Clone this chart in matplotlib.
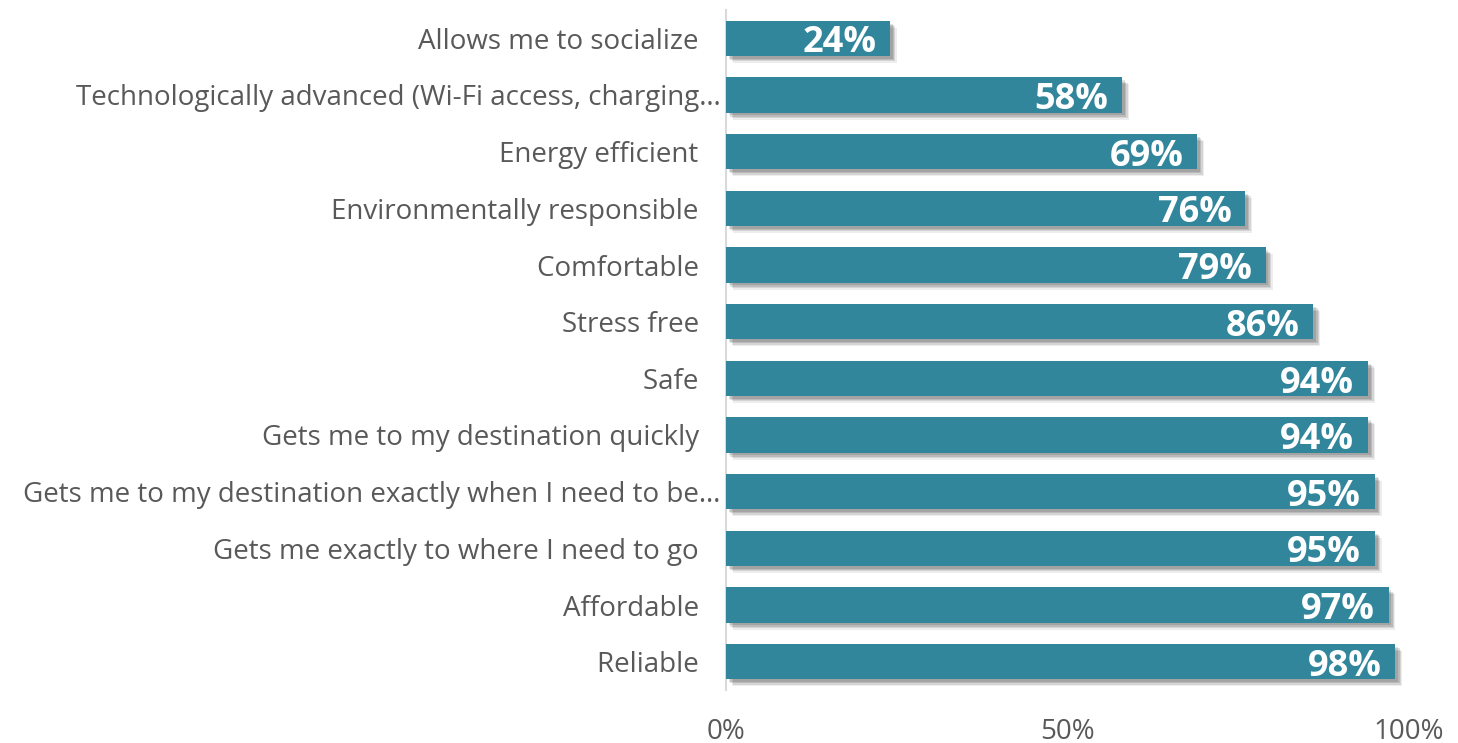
import matplotlib
matplotlib.use("Agg")
from matplotlib import pyplot as plt
import matplotlib.patheffects as pe

categories = ["Reliable", "Affordable", "Gets me exactly to where I need to go",
              "Gets me to my destination exactly when I need to be\u2026",
              "Gets me to my destination quickly", "Safe", "Stress free",
              "Comfortable", "Environmentally responsible", "Energy efficient",
              "Technologically advanced (Wi-Fi access, charging\u2026",
              "Allows me to socialize"]
values = [98, 97, 95, 95, 94, 94, 86, 79, 76, 69, 58, 24]
xticks = [0, 50, 100]
xticklabels = ["0%", "50%", "100%"]

plt.rcParams['font.family'] = ['Open Sans', 'DejaVu Sans']

fig = plt.figure(figsize=(14.58, 7.43), dpi=100)
ax = fig.add_axes([726/1458, 1-690/743, (1409-726)/1458, 680/743])

# soft drop shadow, a few offset layers
shadow = [pe.SimplePatchShadow(offset=(5, -5), shadow_rgbFace='#000000', alpha=0.07),
          pe.SimplePatchShadow(offset=(4, -4), shadow_rgbFace='#000000', alpha=0.10),
          pe.SimplePatchShadow(offset=(3, -3), shadow_rgbFace='#000000', alpha=0.12),
          pe.SimplePatchShadow(offset=(2, -2), shadow_rgbFace='#000000', alpha=0.12),
          pe.Normal()]
y = list(range(len(categories)))
bars = ax.barh(y, values, height=0.62, color='#31869c', zorder=3)
for b in bars:
    b.set_path_effects(shadow)

for yi, v in zip(y, values):
    ax.text(v - 2.0, yi - 0.25, f"{v}%", ha='right', va='baseline', color='white',
            fontsize=26, fontweight='bold', zorder=4)

# labels that are not cut off carry trailing spaces in the original
labels = [c if c.endswith('\u2026') else c + '   ' for c in categories]

ax.set_ylim(-0.5, 11.5)
ax.set_xlim(0, 100)
ax.set_yticks(y)
ax.set_yticklabels(labels, fontsize=20, color='#595959')
ax.set_xticks(xticks)
ax.set_xticklabels(xticklabels, fontsize=20, color='#595959')
ax.tick_params(axis='both', length=0)
ax.tick_params(axis='y', pad=4)
ax.tick_params(axis='x', pad=20)
for s in ['top', 'right', 'bottom']:
    ax.spines[s].set_visible(False)
ax.spines['left'].set_color('#d9d9d9')
ax.spines['left'].set_linewidth(1.5)

fig.savefig("out.png", dpi=100)
